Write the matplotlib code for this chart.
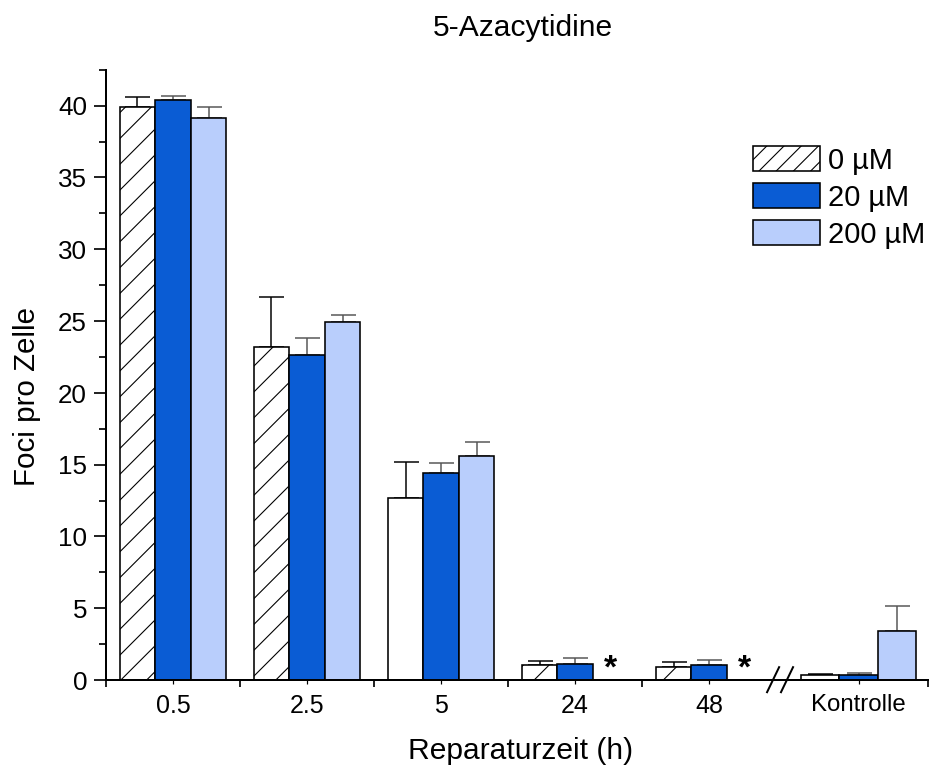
"""
    5-Azacytidine: Foci pro Zelle nach Reparaturzeit
"""

import numpy as np
import matplotlib
matplotlib.use('Agg')
import matplotlib.pyplot as plt
import matplotlib.transforms as mtransforms

# Data
groups = ['0.5', '2.5', '5', '24', '48', 'Kontrolle']
series = ['0 µM', '20 µM', '200 µM']
val_0 = [39.9, 23.2, 12.7, 1.02, 0.88, 0.37]
err_0 = [0.7, 3.5, 2.5, 0.33, 0.37, 0.07]
val_20 = [40.4, 22.65, 14.45, 1.09, 1.07, 0.37]
err_20 = [0.27, 1.16, 0.63, 0.44, 0.32, 0.14]
val_200 = [39.15, 24.9, 15.6, 0.0, 0.0, 3.39]
err_200 = [0.75, 0.5, 0.95, 0.0, 0.0, 1.77]
hatched = [True, True, False, True, True, False]   # 0 µM bars drawn with hatch
stars = [3, 4]   # groups where 200 µM gives no value

DPI = 155
PT = 72.0 / DPI   # pixel -> point

plt.rcParams['font.family'] = ['Liberation Sans', 'DejaVu Sans']
plt.rcParams['hatch.linewidth'] = 1.1 * PT
plt.rcParams['axes.linewidth'] = 2.0 * PT

fig = plt.figure(figsize=(930 / DPI, 766.2 / DPI), dpi=DPI)
ax = fig.add_axes([106 / 930, 1 - 680 / 766, (928 - 106) / 930, (680 - 70) / 766])

# group positions (unit = 134 px), Kontrolle after the break
pos = np.array([0, 1, 2, 3, 4, 5.116])
width = np.array([0.265] * 5 + [0.286])
colors = ['white', '#0a5cd4', '#b9cefc']
errc = ['black', '#555555', '#555555']

vals = [val_0, val_20, val_200]
errs = [err_0, err_20, err_200]
for k in range(3):
    x = pos + (k - 1) * width
    v = np.array(vals[k])
    e = np.array(errs[k])
    bars = ax.bar(x, v, width, color=colors[k], edgecolor='black',
                  linewidth=1.6 * PT, label=series[k], zorder=2)
    if k == 0:
        for b, h in zip(bars, hatched):
            if h:
                b.set_hatch('//')
    keep = v > 0
    ax.errorbar(x[keep], v[keep], yerr=[np.zeros(keep.sum()), e[keep]],
                fmt='none', ecolor=errc[k], elinewidth=1.5 * PT,
                capsize=12.5 * PT, capthick=1.5 * PT, zorder=1)

# stars for missing 200 µM values
for i in stars:
    ax.text(pos[i] + width[i], 0.75, '*', ha='center', va='center',
            fontsize=34 * PT, fontweight='bold')

# axes
ax.set_xlim(-0.5, 5.634)
ax.set_ylim(0, 42.5)
ax.spines['top'].set_visible(False)
ax.spines['right'].set_visible(False)

ax.set_yticks(np.arange(0, 41, 5))
ax.set_yticks(np.arange(0, 42.6, 2.5), minor=True)
ax.tick_params(axis='y', which='major', length=12 * PT, width=1.7 * PT,
               labelsize=26 * PT, pad=7 * PT)
ax.tick_params(axis='y', which='minor', length=7 * PT, width=1.7 * PT)

ax.set_xticks([-0.5, 0.5, 1.5, 2.5, 3.5, 5.634])
ax.set_xticklabels([])
ax.set_xticks(pos, minor=True)
ax.set_xticklabels(groups, minor=True)
ax.tick_params(axis='x', which='major', length=7 * PT, width=1.7 * PT)
ax.tick_params(axis='x', which='minor', length=3.5 * PT, width=1.2 * PT,
               labelsize=25 * PT, pad=10 * PT)
ax.get_xticklabels(minor=True)[-1].set_fontsize(24 * PT)

# axis break marks
trans = mtransforms.blended_transform_factory(ax.transData, ax.transAxes)
for x0 in (4.433, 4.537):
    ax.plot([x0, x0 + 0.09], [-0.02, 0.021], color='black', lw=2.0 * PT,
            transform=trans, clip_on=False, zorder=5)

# labels
fig.text(523 / 930, 1 - 28 / 766, '5-Azacytidine', ha='center', va='center',
         fontsize=30 * PT)
fig.text(521 / 930, 1 - 751 / 766, 'Reparaturzeit (h)', ha='center',
         va='center', fontsize=30 * PT)
fig.text(27 / 930, 1 - 396 / 766, 'Foci pro Zelle', ha='center', va='center',
         rotation=90, fontsize=29.5 * PT)

leg = ax.legend(loc='upper left', bbox_to_anchor=(753 / 930, 1 - 146 / 766),
                bbox_transform=fig.transFigure, frameon=False,
                fontsize=29 * PT, handlelength=2.3, handleheight=0.95,
                labelspacing=0.3, handletextpad=0.3, borderpad=0,
                borderaxespad=0)
leg.legend_handles[0].set_hatch('///')

fig.savefig('out.png', dpi=DPI)
